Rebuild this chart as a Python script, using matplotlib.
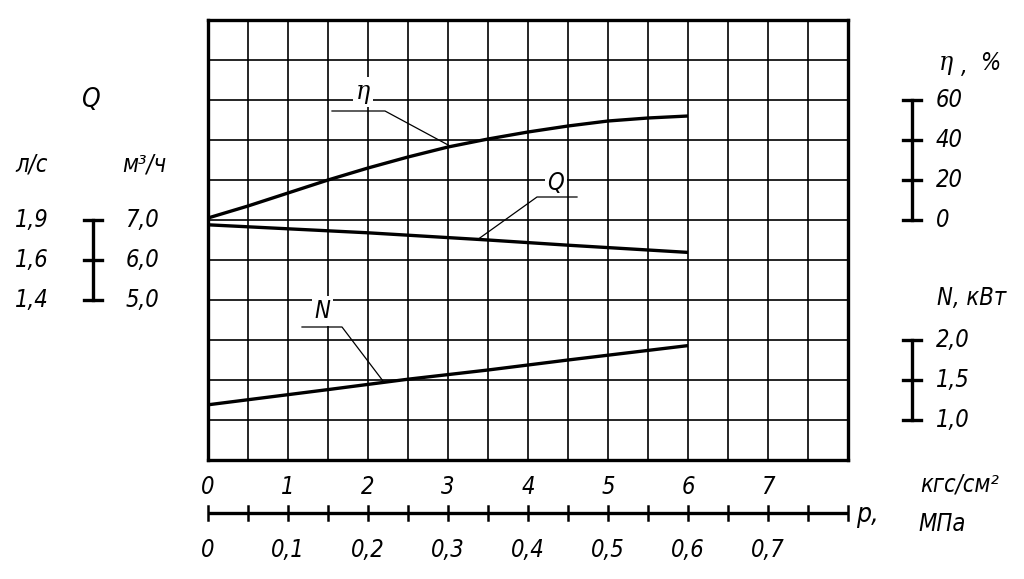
import numpy as np
import matplotlib
matplotlib.use("Agg")
import matplotlib.pyplot as plt
from matplotlib import font_manager

# pressure, kgf/cm^2
p_eta = [0, 0.5, 1, 1.5, 2, 2.5, 3, 3.5, 4, 4.5, 5, 5.5, 6]
eta = [1, 7, 13.5, 20, 26, 31.5, 36.5, 40.5, 44, 47, 49.5, 51, 52]   # %
p_q = [0, 2, 3.5, 4.5, 6]
q = [6.88, 6.68, 6.5, 6.37, 6.19]                                   # m3/h
p_n = [0, 1.5, 2.5, 3.5, 4.5, 6]
n = [1.19, 1.38, 1.51, 1.625, 1.75, 1.93]                           # kW

p_ticks = [0, 1, 2, 3, 4, 5, 6, 7]
p_mpa_labels = ["0", "0,1", "0,2", "0,3", "0,4", "0,5", "0,6", "0,7"]
q_m3h = [7.0, 6.0, 5.0]
q_m3h_labels = ["7,0", "6,0", "5,0"]
q_ls_labels = ["1,9", "1,6", "1,4"]
eta_ticks = [60, 40, 20, 0]
n_ticks = [2.0, 1.5, 1.0]
n_labels = ["2,0", "1,5", "1,0"]

# narrow italic face if there is one, closest to the drafting font
fp = None
for f in font_manager.fontManager.ttflist:
    fn = f.fname.replace("-", "").replace("_", "")
    if "SansCondensedOblique" in fn or "SansNarrowItalic" in fn:
        fp = f.fname
        break
if fp:
    font_manager.fontManager.addfont(fp)
    fam = font_manager.FontProperties(fname=fp).get_name()
    plt.rcParams["font.family"] = [fam, "DejaVu Sans"]
    plt.rcParams["font.stretch"] = "condensed"
plt.rcParams["font.style"] = "italic"
FS = 17

fig = plt.figure(figsize=(10.24, 5.79), dpi=100)
ax = fig.add_axes([208 / 1024, 119 / 579, 640 / 1024, 440 / 579])
ax.set_xlim(0, 8)
ax.set_ylim(0, 11)
ax.set_xticks(np.arange(0, 8.01, 0.5))
ax.set_yticks(np.arange(0, 12))
ax.grid(True, color="black", lw=1.2)
ax.tick_params(length=0, labelbottom=False, labelleft=False)
for s in ax.spines.values():
    s.set_linewidth(2.4)

# one overlaid axes per quantity, scaled so their ticks fall on grid rows
def overlay(ylim):
    a = ax.twinx()
    a.set_ylim(*ylim)
    a.axis("off")
    return a

ax_eta = overlay((-120, 100))
ax_q = overlay((1, 12))
ax_n = overlay((0.5, 6))

ax_eta.plot(p_eta, eta, color="black", lw=2.4, solid_capstyle="butt")
ax_q.plot(p_q, q, color="black", lw=2.4, solid_capstyle="butt")
ax_n.plot(p_n, n, color="black", lw=2.4, solid_capstyle="butt")

# curve labels with leaders
box = dict(fc="white", ec="none", pad=2)
ax.text(1.94, 9.2, "η", family="DejaVu Serif", style="italic", fontsize=19,
        ha="center", va="center", bbox=box, zorder=4)
ax.plot([1.55, 2.2125, 3.025], [8.725, 8.725, 7.85], color="black", lw=0.9,
        clip_on=False, zorder=4)
ax.text(4.35, 6.93, "Q", fontsize=FS, ha="center", va="center", bbox=box, zorder=4)
ax.plot([4.6125, 4.1125, 3.3625], [6.575, 6.575, 5.5], color="black", lw=0.9,
        clip_on=False, zorder=4)
ax.text(1.43, 3.72, "N", fontsize=FS, ha="center", va="center", bbox=box, zorder=4)
ax.plot([1.175, 1.675, 2.1875], [3.325, 3.325, 1.975], color="black", lw=0.9,
        clip_on=False, zorder=4)

# pressure scale below the grid
y_ax = -1.325
ax.plot([0, 8], [y_ax, y_ax], color="black", lw=2.4, clip_on=False,
        solid_capstyle="butt")
for x in np.arange(0, 8.01, 0.5):
    ax.plot([x, x], [y_ax - 0.17, y_ax + 0.17], color="black", lw=1.8, clip_on=False)
for x, lab in zip(p_ticks, p_mpa_labels):
    ax.text(x, -0.68, str(x), fontsize=FS, ha="center", va="center")
    ax.text(x, -2.25, lab, fontsize=FS, ha="center", va="center")
ax.text(8.1, y_ax - 0.05, "р,", fontsize=FS + 2, ha="left", va="center")
ax.text(9.4, -0.6, "кгс/см²", fontsize=FS, ha="center", va="center")
ax.text(9.18, -1.6, "МПа", fontsize=FS, ha="center", va="center")

# Q scale on the left
xb = -1.4375
ax_q.plot([xb, xb], [min(q_m3h), max(q_m3h)], color="black", lw=2.4, clip_on=False)
for v, lab, lab2 in zip(q_m3h, q_m3h_labels, q_ls_labels):
    ax_q.plot([xb - 0.11, xb + 0.11], [v, v], color="black", lw=2.4, clip_on=False)
    ax_q.text(-0.82, v, lab, fontsize=FS, ha="center", va="center")
    ax_q.text(-2.2, v, lab2, fontsize=FS, ha="center", va="center")
ax.text(-1.47, 9.0, "Q", fontsize=FS + 2, ha="center", va="center")
ax.text(-2.2, 7.38, "л/с", fontsize=FS, ha="center", va="center")
ax.text(-0.8, 7.38, "м³/ч", fontsize=FS, ha="center", va="center")

# eta scale on the right
xr = 8.8
ax_eta.plot([xr, xr], [min(eta_ticks), max(eta_ticks)], color="black", lw=2.4,
            clip_on=False)
for v in eta_ticks:
    ax_eta.plot([xr - 0.11, xr + 0.11], [v, v], color="black", lw=2.4, clip_on=False)
    ax_eta.text(9.1, v, str(v), fontsize=FS, ha="left", va="center")
ax.text(9.22, 9.93, "η", family="DejaVu Serif", style="italic", fontsize=19,
        ha="center", va="center")
ax.text(9.46, 9.85, ",", fontsize=FS, ha="center", va="center")
ax.text(9.78, 9.93, "%", fontsize=FS, ha="center", va="center")

# N scale on the right
ax_n.plot([xr, xr], [min(n_ticks), max(n_ticks)], color="black", lw=2.4, clip_on=False)
for v, lab in zip(n_ticks, n_labels):
    ax_n.plot([xr - 0.11, xr + 0.11], [v, v], color="black", lw=2.4, clip_on=False)
    ax_n.text(9.1, v, lab, fontsize=FS, ha="left", va="center")
ax.text(9.55, 4.05, "N, кВт", fontsize=FS, ha="center", va="center")

fig.savefig("out.png", dpi=100)
